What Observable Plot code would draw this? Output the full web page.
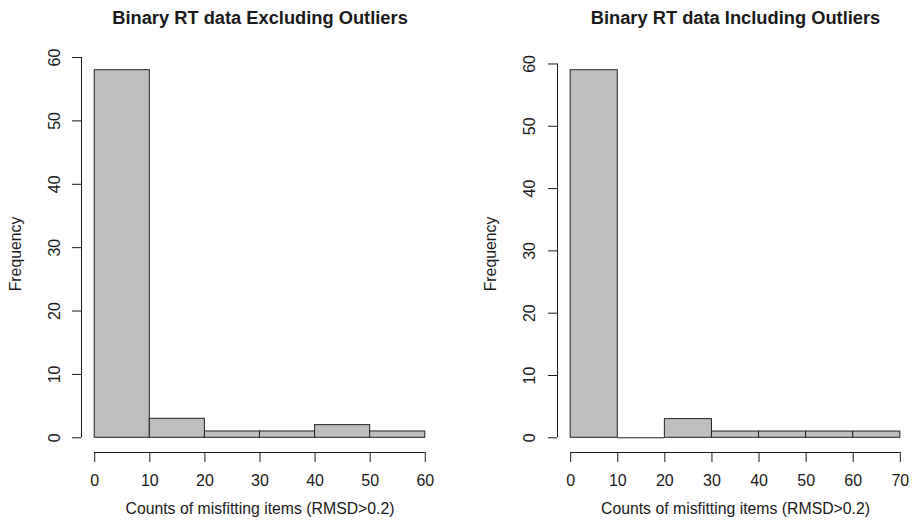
<!DOCTYPE html>
<html>
<head>
<meta charset="utf-8">
<script src="https://cdn.jsdelivr.net/npm/d3@7"></script>
<script src="https://cdn.jsdelivr.net/npm/@observablehq/plot@0.6"></script>
<style>
  html, body { margin: 0; padding: 0; background: #fff; overflow: hidden; }
  #wrap { position: relative; width: 912px; height: 527px; overflow: hidden; }
  #left, #right { position: absolute; top: 0; }
  #left { left: 0; width: 456px; }
  #right { left: 456px; width: 460px; }
  svg { max-width: none !important; }
</style>
</head>
<body>
<div id="wrap"><div id="left"></div><div id="right"></div></div>
<script>
// Data
const binWidth = 10;
const leftBinStarts = [0, 10, 20, 30, 40, 50];
const leftCounts = [58, 3, 1, 1, 2, 1];
const rightBinStarts = [0, 10, 20, 30, 40, 50, 60];
const rightCounts = [59, 0, 3, 1, 1, 1, 1];
const leftXTicks = [0, 10, 20, 30, 40, 50, 60];
const rightXTicks = [0, 10, 20, 30, 40, 50, 60, 70];
const yTicks = [0, 10, 20, 30, 40, 50, 60];
const leftTitle = "Binary RT data Excluding Outliers";
const rightTitle = "Binary RT data Including Outliers";
const xLabel = "Counts of misfitting items (RMSD>0.2)";
const yLabel = "Frequency";

const FONT = "'Liberation Sans', Arial, Helvetica, sans-serif";
const INK = "#1a1a1a";

function panel({starts, counts, xTicks, title, width, marginLeft, marginRight, ytickDx, ylabDx}) {
  const bins = starts.map((s, i) => ({x1: s, x2: s + binWidth, y: counts[i]}));
  const xmax = xTicks[xTicks.length - 1];
  const xr = [0, starts[starts.length - 1] + binWidth];
  const xpad = (xr[1] - xr[0]) * 0.04;
  const ymax = d3.max(counts);
  const ypad = ymax * 0.04;
  const xDom = [xr[0] - xpad, xr[1] + xpad];
  const yDom = [0 - ypad, ymax + ypad];
  return Plot.plot({
    width, height: 527,
    marginLeft, marginRight, marginTop: 55, marginBottom: 75,
    style: {fontFamily: FONT, color: INK, background: "transparent", overflow: "visible", maxWidth: "none"},
    x: {domain: xDom, axis: null},
    y: {domain: yDom, axis: null},
    marks: [
      Plot.rectY(bins, {x1: "x1", x2: "x2", y1: 0, y2: "y", fill: "#bebebe", stroke: "#222", strokeWidth: 1, inset: 0}),
      Plot.ruleY(bins.filter(d => d.y === 0), {x1: "x1", x2: "x2", y: 0, stroke: "#222", strokeWidth: 1}),
      // x axis
      Plot.ruleY([yDom[0]], {x1: xTicks[0], x2: xmax, stroke: INK, strokeWidth: 1}),
      Plot.axisX({ticks: xTicks, tickSize: 10, tickFormat: () => "", label: null, stroke: INK}),
      Plot.text(xTicks, {x: d => d, frameAnchor: "bottom", dy: 28, lineAnchor: "middle", text: d => String(d), fontSize: 16, fill: INK}),
      Plot.text([xLabel], {frameAnchor: "bottom", dy: 56, lineAnchor: "middle", text: d => d, fontSize: 15.8, fill: INK}),
      // y axis
      Plot.ruleX([xDom[0]], {y1: yTicks[0], y2: yTicks[yTicks.length - 1], stroke: INK, strokeWidth: 1}),
      Plot.axisY({ticks: yTicks, tickSize: 9, tickFormat: () => "", label: null, stroke: INK}),
      Plot.text(yTicks, {y: d => d, frameAnchor: "left", dx: ytickDx, rotate: -90, textAnchor: "middle", lineAnchor: "middle", text: d => String(d), fontSize: 16, fill: INK}),
      Plot.text([yLabel], {frameAnchor: "left", dx: ylabDx, rotate: -90, textAnchor: "middle", lineAnchor: "middle", text: d => d, fontSize: 15.8, fill: INK}),
      // title
      Plot.text([title], {frameAnchor: "top", dy: -37, lineAnchor: "middle", text: d => d, fontSize: 18.3, fontWeight: "bold", fill: INK})
    ]
  });
}

document.getElementById("left").append(panel({
  starts: leftBinStarts, counts: leftCounts, xTicks: leftXTicks, title: leftTitle,
  width: 456, marginLeft: 81, marginRight: 18, ytickDx: -27, ylabDx: -66
}));
document.getElementById("right").append(panel({
  starts: rightBinStarts, counts: rightCounts, xTicks: rightXTicks, title: rightTitle,
  width: 460, marginLeft: 101, marginRight: 3, ytickDx: -28, ylabDx: -67
}));
</script>
</body>
</html>
